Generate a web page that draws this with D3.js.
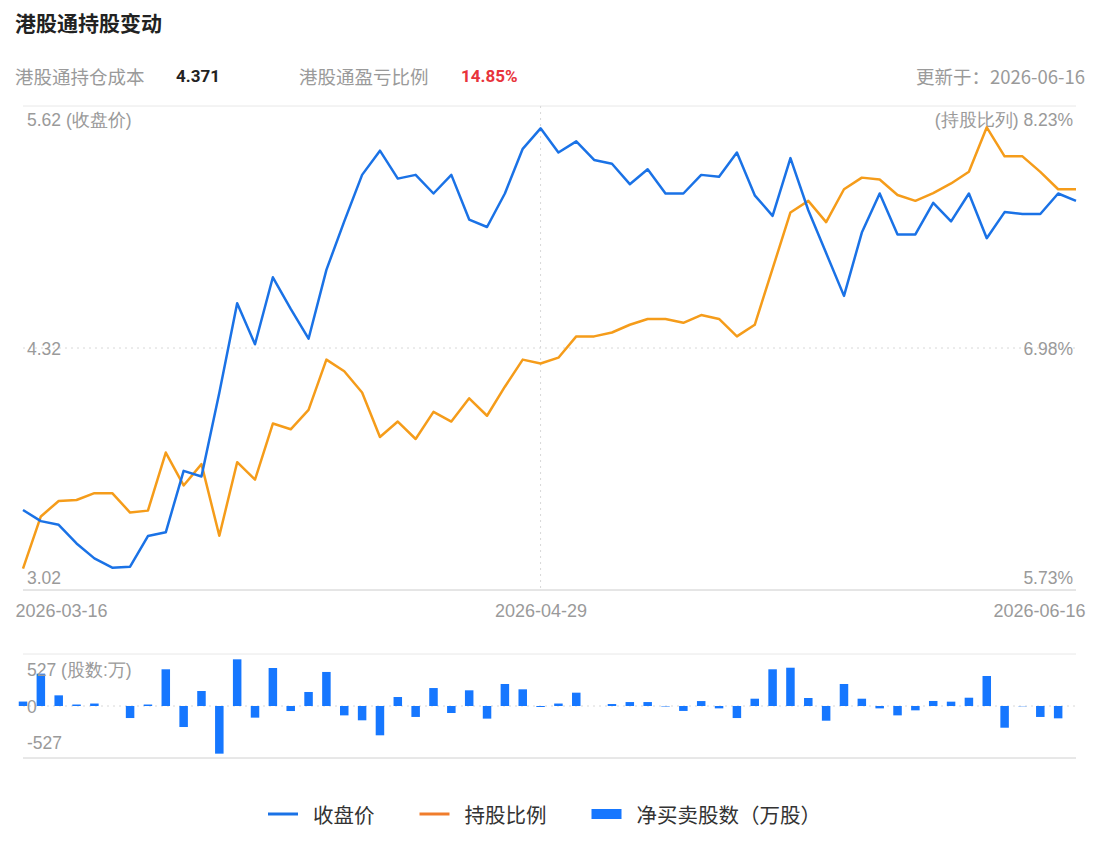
<!DOCTYPE html>
<head>
  <meta charset="utf-8">
  <script src="https://d3js.org/d3.v7.min.js"></script>
  <style>
    body {
      margin: 0;
      background: #fff;
    }

    svg {
      display: block;
      font-family: "Noto Sans CJK SC", "Noto Sans", sans-serif;
    }
  </style>
</head>

<body>
  <svg width="1107" height="845"></svg>
  <script>
    // 收盘价, 持股比例 (%), 净买卖股数 (万股) - one value per trading day
    var closePrice = [3.45, 3.39, 3.37, 3.27, 3.19, 3.14, 3.145, 3.31, 3.33, 3.66,
      3.63, 4.08, 4.56, 4.34, 4.70, 4.53, 4.37, 4.74, 5.00, 5.25,
      5.38, 5.23, 5.25, 5.15, 5.25, 5.01, 4.97, 5.15, 5.39, 5.50,
      5.37, 5.43, 5.33, 5.31, 5.20, 5.28, 5.15, 5.15, 5.25, 5.24,
      5.37, 5.14, 5.03, 5.34, 5.06, 4.83, 4.60, 4.94, 5.15, 4.93,
      4.93, 5.10, 5.00, 5.15, 4.91, 5.05, 5.04, 5.04, 5.15, 5.11];
    var holdRatio = [5.84, 6.11, 6.19, 6.195, 6.23, 6.23, 6.13, 6.14, 6.44, 6.27,
      6.38, 6.01, 6.39, 6.30, 6.59, 6.56, 6.66, 6.92, 6.86, 6.75,
      6.52, 6.60, 6.51, 6.65, 6.60, 6.72, 6.63, 6.78, 6.92, 6.90,
      6.93, 7.04, 7.04, 7.06, 7.10, 7.13, 7.13, 7.11, 7.15, 7.13,
      7.04, 7.10, 7.39, 7.68, 7.74, 7.63, 7.80, 7.86, 7.85, 7.77,
      7.74, 7.78, 7.83, 7.89, 8.12, 7.97, 7.97, 7.89, 7.80, 7.80];
    var netShares = [45, 328, 108, 15, 25, 0, -122, 15, 372, -213,
      152, -483, 473, -118, 385, -51, 142, 345, -95, -145,
      -297, 91, -111, 182, -71, 159, -128, 223, 169, -10,
      25, 135, 0, 20, 40, 40, -5, -50, 50, -24,
      -122, 74, 372, 388, 81, -149, 223, 74, -24, -95,
      -44, 51, 44, 84, 304, -220, -3, -111, -125, 0];

    var xTickIndex = [0, 29, 59];
    var xTickLabels = ['2026-03-16', '2026-04-29', '2026-06-16'];
    var priceTicks = [3.02, 4.32, 5.62];
    var ratioTicks = [5.73, 6.98, 8.23];
    var shareTicks = [-527, 0, 527];

    var legendItems = ['收盘价', '持股比例', '净买卖股数（万股）'];

    var blue = '#1a72e6';
    var orange = '#f59c1a';
    var barBlue = '#1677ff';
    var gray = '#9a9a9a';

    var left = 23, right = 1076;
    var main = { top: 106, bottom: 590 };
    var sub = { top: 654, bottom: 758 };

    var svg = d3.select('svg');

    // header
    svg.append('text')
      .attr('x', 15).attr('y', 22)
      .attr('dominant-baseline', 'central')
      .attr('font-size', 21).attr('font-weight', 'bold').attr('fill', '#222')
      .text('港股通持股变动');

    var info = svg.append('g').attr('font-size', 18.5).attr('dominant-baseline', 'central');
    info.append('text').attr('x', 15).attr('y', 76).attr('fill', gray).text('港股通持仓成本');
    info.append('text').attr('x', 176).attr('y', 76).attr('fill', '#222')
      .attr('font-weight', 'bold').attr('font-family', 'Roboto').attr('font-size', 17).text('4.371');
    info.append('text').attr('x', 299).attr('y', 76).attr('fill', gray).text('港股通盈亏比例');
    info.append('text').attr('x', 461).attr('y', 76).attr('fill', '#e8343b')
      .attr('font-weight', 'bold').attr('font-family', 'Roboto').attr('font-size', 17).text('14.85%');
    info.append('text').attr('x', 1085).attr('y', 76).attr('fill', gray)
      .attr('text-anchor', 'end').text('更新于：2026-06-16');

    // scales
    var index = d3.range(closePrice.length);
    var x = d3.scalePoint().domain(index).range([left, right]);
    var yPrice = d3.scaleLinear().domain([priceTicks[0], priceTicks[2]]).range([main.bottom, main.top]);
    var yRatio = d3.scaleLinear().domain([ratioTicks[0], ratioTicks[2]]).range([main.bottom, main.top]);
    var yShares = d3.scaleLinear().domain([shareTicks[0], shareTicks[2]]).range([sub.bottom, sub.top]);

    // frame lines
    svg.append('line')
      .attr('x1', left).attr('x2', right).attr('y1', main.top).attr('y2', main.top)
      .attr('stroke', '#e8e8e8');
    svg.append('line')
      .attr('x1', left).attr('x2', right).attr('y1', yPrice(priceTicks[1])).attr('y2', yPrice(priceTicks[1]))
      .attr('stroke', '#d8d8d8').attr('stroke-dasharray', '2,4');
    svg.append('line')
      .attr('x1', x(xTickIndex[1])).attr('x2', x(xTickIndex[1])).attr('y1', main.top).attr('y2', main.bottom)
      .attr('stroke', '#d8d8d8').attr('stroke-dasharray', '2,4');

    // x axis
    var xAxis = d3.axisBottom(x)
      .tickValues(xTickIndex)
      .tickSize(0)
      .tickPadding(14)
      .tickFormat(function (d) { return xTickLabels[xTickIndex.indexOf(d)]; });
    var gx = svg.append('g')
      .attr('transform', 'translate(0,' + main.bottom + ')')
      .call(xAxis);
    gx.select('.domain').attr('stroke', '#cccccc').attr('d', 'M' + left + ',0H' + right);
    gx.selectAll('text')
      .attr('font-size', 18).attr('fill', gray).attr('font-family', 'inherit')
      .attr('text-anchor', function (d, i) { return i === 0 ? 'start' : (i === 2 ? 'end' : 'middle'); })
      .attr('dx', function (d, i) { return i === 0 ? -8 : (i === 2 ? 9 : 0); });

    // y axes, labels drawn inside the plot
    function insideAxis(axis, scale, ticks, fmt, anchor, pos) {
      var g = svg.append('g')
        .attr('transform', 'translate(' + pos + ',0)')
        .call(axis(scale).tickValues(ticks).tickSize(0).tickPadding(0).tickFormat(fmt));
      g.select('.domain').remove();
      g.selectAll('text')
        .attr('font-size', 17.5).attr('fill', gray).attr('font-family', 'inherit')
        .attr('text-anchor', anchor)
        .attr('dy', function (d, i) { return i === 0 ? '-0.4em' : (i === ticks.length - 1 ? '1.1em' : '0.35em'); });
      return g;
    }

    insideAxis(d3.axisRight, yPrice, priceTicks, function (d, i) {
      return d.toFixed(2) + (i === 2 ? ' (收盘价)' : '');
    }, 'start', 27);
    insideAxis(d3.axisLeft, yRatio, ratioTicks, function (d, i) {
      return (i === 2 ? '(持股比列) ' : '') + d.toFixed(2) + '%';
    }, 'end', 1073);

    // lines
    var priceLine = d3.line()
      .x(function (d, i) { return x(i); })
      .y(function (d) { return yPrice(d); });
    var ratioLine = d3.line()
      .x(function (d, i) { return x(i); })
      .y(function (d) { return yRatio(d); });

    svg.append('path').datum(holdRatio)
      .attr('d', ratioLine).attr('fill', 'none')
      .attr('stroke', orange).attr('stroke-width', 2.5).attr('stroke-linejoin', 'round');
    svg.append('path').datum(closePrice)
      .attr('d', priceLine).attr('fill', 'none')
      .attr('stroke', blue).attr('stroke-width', 2.5).attr('stroke-linejoin', 'round');

    // lower panel: net buy/sell
    svg.append('line')
      .attr('x1', left).attr('x2', right).attr('y1', sub.top).attr('y2', sub.top)
      .attr('stroke', '#e8e8e8');
    svg.append('line')
      .attr('x1', left).attr('x2', right).attr('y1', sub.bottom).attr('y2', sub.bottom)
      .attr('stroke', '#d0d0d0');
    svg.append('line')
      .attr('x1', left).attr('x2', right).attr('y1', yShares(0)).attr('y2', yShares(0))
      .attr('stroke', '#d8d8d8').attr('stroke-dasharray', '2,4');

    var barW = 8.5;
    svg.append('g').selectAll('rect')
      .data(netShares)
      .enter()
      .append('rect')
      .attr('x', function (d, i) { return x(i) - barW / 2; })
      .attr('y', function (d) { return Math.min(yShares(d), yShares(0)); })
      .attr('width', barW)
      .attr('height', function (d) { return Math.abs(yShares(d) - yShares(0)); })
      .attr('fill', barBlue);

    var gs = svg.append('g')
      .attr('transform', 'translate(27,0)')
      .call(d3.axisRight(yShares).tickValues(shareTicks).tickSize(0).tickPadding(0)
        .tickFormat(function (d, i) { return d + (i === 2 ? ' (股数:万)' : ''); }));
    gs.select('.domain').remove();
    gs.selectAll('text')
      .attr('font-size', 17.5).attr('fill', gray).attr('font-family', 'inherit')
      .attr('text-anchor', 'start')
      .attr('dy', function (d, i) { return i === 0 ? '-0.55em' : (i === 2 ? '1.2em' : '0.35em'); });

    // legend
    var legend = svg.append('g').attr('font-size', 20.5).attr('fill', '#333');
    var lx = 268, ly = 814;
    legendItems.forEach(function (name, i) {
      var g = legend.append('g').attr('transform', 'translate(' + lx + ',' + ly + ')');
      if (i < 2) {
        g.append('line').attr('x1', 0).attr('x2', 30).attr('y1', 0).attr('y2', 0)
          .attr('stroke', i === 0 ? blue : '#f07d2c').attr('stroke-width', 3);
      } else {
        g.append('rect').attr('x', 0).attr('y', -5).attr('width', 30).attr('height', 10)
          .attr('fill', barBlue);
      }
      var t = g.append('text').attr('x', 45).attr('dominant-baseline', 'central').text(name);
      lx += 45 + t.node().getComputedTextLength() + 45;
    });
  </script>
</body>
